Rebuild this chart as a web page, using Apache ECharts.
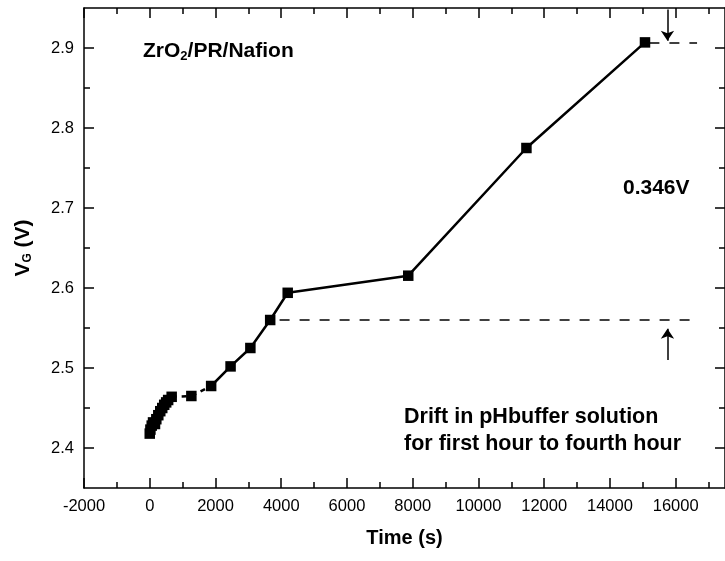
<!DOCTYPE html>
<html><head><meta charset="utf-8">
<script src="https://cdn.jsdelivr.net/npm/echarts@6/dist/echarts.min.js"></script>
<style>html,body{margin:0;padding:0;background:#fff}#c{width:725px;height:561px}</style>
</head><body><div id="c"></div>
<script>
// ---- data ----
const time = [0, 20, 60, 100, 160, 200, 260, 320, 380, 440, 500, 560, 667, 1266, 1868, 2459, 3061, 3664, 4197, 7864, 11459, 15066];
const vg   = [2.418, 2.423, 2.428, 2.432, 2.430, 2.436, 2.441, 2.446, 2.450, 2.454, 2.457, 2.460, 2.464, 2.465, 2.4775, 2.502, 2.525, 2.56, 2.594, 2.6154, 2.775, 2.907];
const dashedStart = 12, dashedEnd = 14;          // indices of the dashed segment
const xMajor = [-2000, 0, 2000, 4000, 6000, 8000, 10000, 12000, 14000, 16000];
const xMinor = [-1000, 1000, 3000, 5000, 7000, 9000, 11000, 13000, 15000, 17000];
const yMajor = [2.4, 2.5, 2.6, 2.7, 2.8, 2.9];
const yMinor = [2.45, 2.55, 2.65, 2.75, 2.85];
const driftTop = 2.907, driftBottom = 2.56;
const topDash = [15200, 16650], bottomDash = [3950, 16550];
const arrowX = 15750;
const topArrow = [2.948, 2.909], bottomArrow = [2.51, 2.549];
const labelDelta = '0.346V';
const labelMaterial = ['ZrO', '2', '/PR/Nafion'];
const labelDrift = ['Drift in pHbuffer solution', 'for first hour to fourth hour'];

const FONT = 'Liberation Sans, Arial, sans-serif';
const pts = time.map((t, i) => [t, vg[i]]);
const solidA = pts.slice(0, dashedStart + 1);
const dashed = pts.slice(dashedStart, dashedEnd + 1);
const solidB = pts.slice(dashedEnd);

function xAx(pos, ticks, len, major) {
  return {
    type: 'value', position: pos, min: -2000, max: 17500,
    axisLine: { show: major, onZero: false, lineStyle: { color: '#000', width: 1.5 } },
    axisTick: { show: true, inside: true, length: len, customValues: ticks, lineStyle: { color: '#000', width: 1.5 } },
    axisLabel: (pos === 'bottom' && major) ? { show: true, customValues: ticks, color: '#000', fontSize: 16.5, fontFamily: FONT, margin: 10, formatter: v => String(v) } : { show: false },
    splitLine: { show: false }
  };
}
function yAx(pos, ticks, len, major) {
  return {
    type: 'value', position: pos, min: 2.35, max: 2.95,
    axisLine: { show: major, onZero: false, lineStyle: { color: '#000', width: 1.5 } },
    axisTick: { show: true, inside: true, length: len, customValues: ticks, lineStyle: { color: '#000', width: 1.5 } },
    axisLabel: (pos === 'left' && major) ? { show: true, customValues: ticks, color: '#000', fontSize: 16.5, fontFamily: FONT, margin: 10, formatter: v => v.toFixed(1) } : { show: false },
    splitLine: { show: false }
  };
}

const xAxes = [xAx('bottom', xMajor, 10, true), xAx('bottom', xMinor, 6, false), xAx('top', xMajor, 10, true), xAx('top', xMinor, 6, false)];
Object.assign(xAxes[0], { name: 'Time (s)', nameLocation: 'middle', nameGap: 40, nameTextStyle: { color: '#000', fontSize: 20, fontWeight: 'bold', fontFamily: FONT } });
const yAxes = [yAx('left', yMajor, 10, true), yAx('left', yMinor, 6, false), yAx('right', yMajor, 10, true), yAx('right', yMinor, 6, false)];
Object.assign(yAxes[0], {
  name: '{a|V}{s|G}{a| (V)}', nameLocation: 'middle', nameGap: 50, nameRotate: 90,
  nameTextStyle: { color: '#000', fontFamily: FONT, rich: {
    a: { fontSize: 21, fontWeight: 'bold', fontFamily: FONT, color: '#000' },
    s: { fontSize: 12, fontWeight: 'bold', fontFamily: FONT, color: '#000', verticalAlign: 'bottom', padding: [8, 0, 0, 0] } } }
});

const lineBase = { type: 'line', xAxisIndex: 0, yAxisIndex: 0, showSymbol: false, symbol: 'none', animation: false, silent: true };
const option = {
  animation: false,
  backgroundColor: '#fff',
  grid: { left: 84, top: 8, width: 647.5, height: 480, containLabel: false },
  xAxis: xAxes,
  yAxis: yAxes,
  series: [
    Object.assign({}, lineBase, { data: solidA, lineStyle: { color: '#000', width: 2.5 } }),
    Object.assign({}, lineBase, { data: dashed, lineStyle: { color: '#000', width: 2.5, type: [5, 5] } }),
    Object.assign({}, lineBase, { data: solidB, lineStyle: { color: '#000', width: 2.5 } }),
    {
      type: 'scatter', xAxisIndex: 0, yAxisIndex: 0, data: pts, symbol: 'rect', symbolSize: 10.5,
      itemStyle: { color: '#000', opacity: 1 }, animation: false,
      markLine: {
        silent: true, animation: false, label: { show: false },
        data: [
          [{ coord: [topDash[0], driftTop], symbol: 'none' }, { coord: [topDash[1], driftTop], symbol: 'none' }],
          [{ coord: [bottomDash[0], driftBottom], symbol: 'none' }, { coord: [bottomDash[1], driftBottom], symbol: 'none' }],
          [{ coord: [arrowX, topArrow[0]], symbol: 'none', lineStyle: { type: 'solid' } }, { coord: [arrowX, topArrow[1]], symbol: 'arrow', symbolSize: 10 }],
          [{ coord: [arrowX, bottomArrow[0]], symbol: 'none', lineStyle: { type: 'solid' } }, { coord: [arrowX, bottomArrow[1]], symbol: 'arrow', symbolSize: 10 }]
        ],
        lineStyle: { color: '#000', width: 1.5, type: [10, 10] }
      }
    }
  ],
  graphic: [
    { type: 'text', left: 143, top: 41, style: { text: '{a|' + labelMaterial[0] + '}{s|' + labelMaterial[1] + '}{a|' + labelMaterial[2] + '}', rich: {
        a: { fontSize: 21, fontWeight: 'bold', fontFamily: FONT, fill: '#000' },
        s: { fontSize: 13, fontWeight: 'bold', fontFamily: FONT, fill: '#000', verticalAlign: 'bottom', padding: [10, 0, 0, 0] } } } },
    { type: 'text', left: 623, top: 178, style: { text: labelDelta, fontSize: 21, fontWeight: 'bold', fontFamily: FONT, fill: '#000' } },
    { type: 'text', left: 404, top: 404, style: { text: labelDrift.join('\n'), fontSize: 21.5, lineHeight: 27, fontWeight: 'bold', fontFamily: FONT, fill: '#000' } }
  ]
};
echarts.init(document.getElementById('c'), null, { renderer: 'canvas' }).setOption(option);
</script></body></html>
